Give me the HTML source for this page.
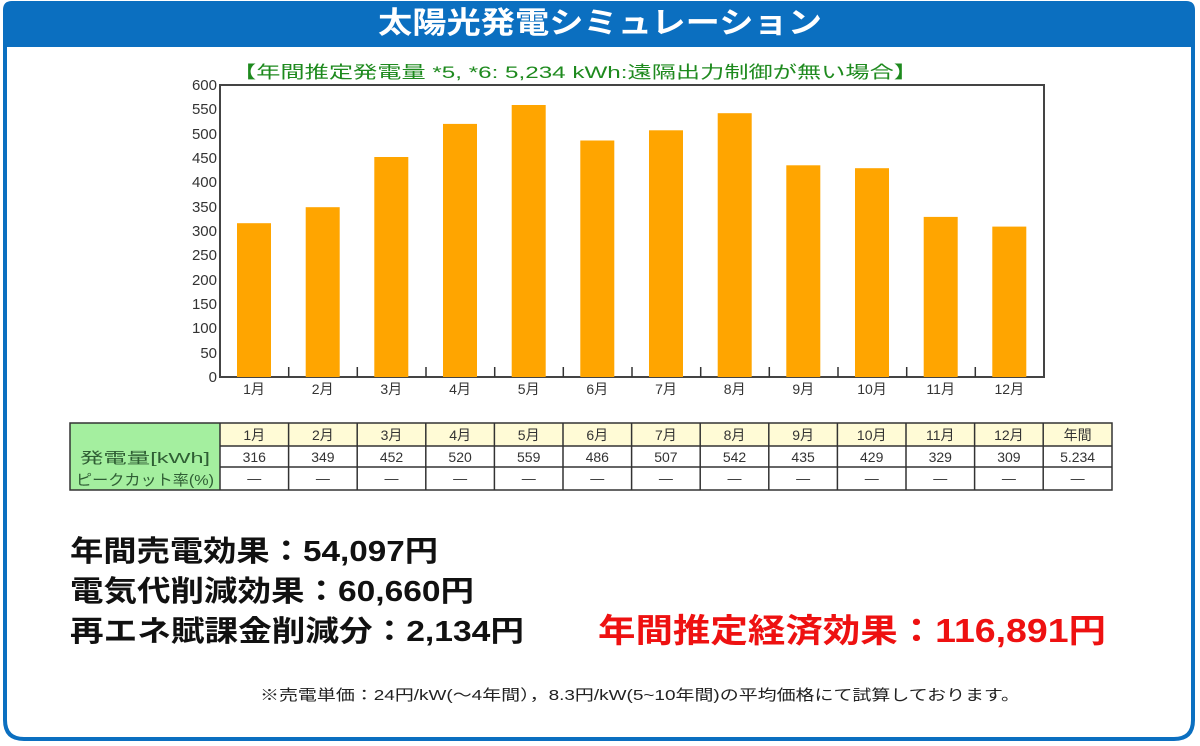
<!DOCTYPE html>
<html><head><meta charset="utf-8"><style>
html,body{margin:0;padding:0;background:#fff;width:1200px;height:746px;overflow:hidden}
svg{display:block}
</style></head><body>
<svg width="1200" height="746" viewBox="0 0 1200 746" xmlns="http://www.w3.org/2000/svg" font-family="'Liberation Sans','Noto Sans CJK JP',sans-serif">
<path d="M5,24 Q5,3 26,3 L1174,3 Q1193,3 1193,22 L1193,720 Q1193,739 1174,739 L24,739 Q5,739 5,720 Z" fill="#fff" stroke="#0b6fc0" stroke-width="4"/>
<path d="M3,10 Q3,1 12,1 L1186,1 Q1195,1 1195,10 L1195,47 L3,47 Z" fill="#0b6fc0"/>
<text x="378" y="33" fill="#fff" font-size="30" font-weight="bold" textLength="444" lengthAdjust="spacingAndGlyphs">太陽光発電シミュレーション</text>

<text x="232" y="78" fill="#1e8a1e" font-size="17" textLength="686" lengthAdjust="spacingAndGlyphs">【年間推定発電量 *5, *6:  5,234 kWh:遠隔出力制御が無い場合】</text>

<rect x="220" y="85" width="824" height="292" fill="#fff" stroke="#444" stroke-width="2"/>
<g fill="#ffa500">
<rect x="237" y="223.2" width="34" height="153.8"/>
<rect x="305.7" y="207.2" width="34" height="169.8"/>
<rect x="374.3" y="157" width="34" height="220"/>
<rect x="443" y="123.9" width="34" height="253.1"/>
<rect x="511.7" y="105" width="34" height="272"/>
<rect x="580.3" y="140.5" width="34" height="236.5"/>
<rect x="649" y="130.3" width="34" height="246.7"/>
<rect x="717.7" y="113.2" width="34" height="263.8"/>
<rect x="786.3" y="165.3" width="34" height="211.7"/>
<rect x="855" y="168.2" width="34" height="208.8"/>
<rect x="923.7" y="216.9" width="34" height="160.1"/>
<rect x="992.3" y="226.6" width="34" height="150.4"/>
</g>
<g stroke="#333" stroke-width="1.5">
<line x1="288.7" y1="367" x2="288.7" y2="377"/><line x1="357.3" y1="367" x2="357.3" y2="377"/>
<line x1="426" y1="367" x2="426" y2="377"/><line x1="494.7" y1="367" x2="494.7" y2="377"/>
<line x1="563.3" y1="367" x2="563.3" y2="377"/><line x1="632" y1="367" x2="632" y2="377"/>
<line x1="700.7" y1="367" x2="700.7" y2="377"/><line x1="769.3" y1="367" x2="769.3" y2="377"/>
<line x1="838" y1="367" x2="838" y2="377"/><line x1="906.7" y1="367" x2="906.7" y2="377"/>
<line x1="975.3" y1="367" x2="975.3" y2="377"/>
</g>
<g font-size="15" fill="#333" text-anchor="end">
<text x="217" y="382">0</text><text x="217" y="358">50</text><text x="217" y="333">100</text>
<text x="217" y="309">150</text><text x="217" y="285">200</text><text x="217" y="260">250</text>
<text x="217" y="236">300</text><text x="217" y="212">350</text><text x="217" y="187">400</text>
<text x="217" y="163">450</text><text x="217" y="139">500</text><text x="217" y="114">550</text>
<text x="217" y="90">600</text>
</g>
<g font-size="14" fill="#333" text-anchor="middle">
<text x="254" y="394">1月</text><text x="322.7" y="394">2月</text><text x="391.3" y="394">3月</text>
<text x="460" y="394">4月</text><text x="528.7" y="394">5月</text><text x="597.3" y="394">6月</text>
<text x="666" y="394">7月</text><text x="734.7" y="394">8月</text><text x="803.3" y="394">9月</text>
<text x="872" y="394">10月</text><text x="940.7" y="394">11月</text><text x="1009.3" y="394">12月</text>
</g>

<rect x="70" y="423" width="150" height="67" fill="#a4ef9f"/>
<rect x="220" y="423" width="892" height="23" fill="#fffbd6"/>
<g stroke="#333" stroke-width="1.5" fill="none">
<rect x="70" y="423" width="1042" height="67"/>
<line x1="220" y1="446" x2="1112" y2="446"/>
<line x1="220" y1="467" x2="1112" y2="467"/>
<line x1="220" y1="423" x2="220" y2="490"/>
<line x1="288.6" y1="423" x2="288.6" y2="490"/><line x1="357.2" y1="423" x2="357.2" y2="490"/>
<line x1="425.8" y1="423" x2="425.8" y2="490"/><line x1="494.4" y1="423" x2="494.4" y2="490"/>
<line x1="563" y1="423" x2="563" y2="490"/><line x1="631.6" y1="423" x2="631.6" y2="490"/>
<line x1="700.2" y1="423" x2="700.2" y2="490"/><line x1="768.8" y1="423" x2="768.8" y2="490"/>
<line x1="837.4" y1="423" x2="837.4" y2="490"/><line x1="906" y1="423" x2="906" y2="490"/>
<line x1="974.6" y1="423" x2="974.6" y2="490"/><line x1="1043.2" y1="423" x2="1043.2" y2="490"/>
</g>
<g font-size="15" fill="#2f5e34" text-anchor="middle">
<text x="145" y="463" textLength="130" lengthAdjust="spacingAndGlyphs">発電量[kWh]</text>
<text x="145" y="485" textLength="138" lengthAdjust="spacingAndGlyphs">ピークカット率(%)</text>
</g>
<g font-size="14" fill="#333" text-anchor="middle">
<text x="254.3" y="440">1月</text><text x="322.9" y="440">2月</text><text x="391.5" y="440">3月</text>
<text x="460.1" y="440">4月</text><text x="528.7" y="440">5月</text><text x="597.3" y="440">6月</text>
<text x="665.9" y="440">7月</text><text x="734.5" y="440">8月</text><text x="803.1" y="440">9月</text>
<text x="871.7" y="440">10月</text><text x="940.3" y="440">11月</text><text x="1008.9" y="440">12月</text>
<text x="1077.6" y="440">年間</text>
<text x="254.3" y="462">316</text><text x="322.9" y="462">349</text><text x="391.5" y="462">452</text>
<text x="460.1" y="462">520</text><text x="528.7" y="462">559</text><text x="597.3" y="462">486</text>
<text x="665.9" y="462">507</text><text x="734.5" y="462">542</text><text x="803.1" y="462">435</text>
<text x="871.7" y="462">429</text><text x="940.3" y="462">329</text><text x="1008.9" y="462">309</text>
<text x="1077.6" y="462">5.234</text>
<text x="254.3" y="483">—</text><text x="322.9" y="483">—</text><text x="391.5" y="483">—</text>
<text x="460.1" y="483">—</text><text x="528.7" y="483">—</text><text x="597.3" y="483">—</text>
<text x="665.9" y="483">—</text><text x="734.5" y="483">—</text><text x="803.1" y="483">—</text>
<text x="871.7" y="483">—</text><text x="940.3" y="483">—</text><text x="1008.9" y="483">—</text>
<text x="1077.6" y="483">—</text>
</g>

<g font-size="29" font-weight="bold" fill="#111">
<text x="70" y="561" textLength="368" lengthAdjust="spacingAndGlyphs">年間売電効果：54,097円</text>
<text x="70" y="601" textLength="404" lengthAdjust="spacingAndGlyphs">電気代削減効果：60,660円</text>
<text x="70" y="641" textLength="454" lengthAdjust="spacingAndGlyphs">再エネ賦課金削減分：2,134円</text>
</g>
<text x="598" y="642" font-size="33" font-weight="bold" fill="#ee1111" textLength="508" lengthAdjust="spacingAndGlyphs">年間推定経済効果：116,891円</text>
<text x="260" y="700" font-size="15" fill="#222" textLength="760" lengthAdjust="spacingAndGlyphs">※売電単価：24円/kW(～4年間），8.3円/kW(5~10年間)の平均価格にて試算しております。</text>
</svg>
</body></html>
